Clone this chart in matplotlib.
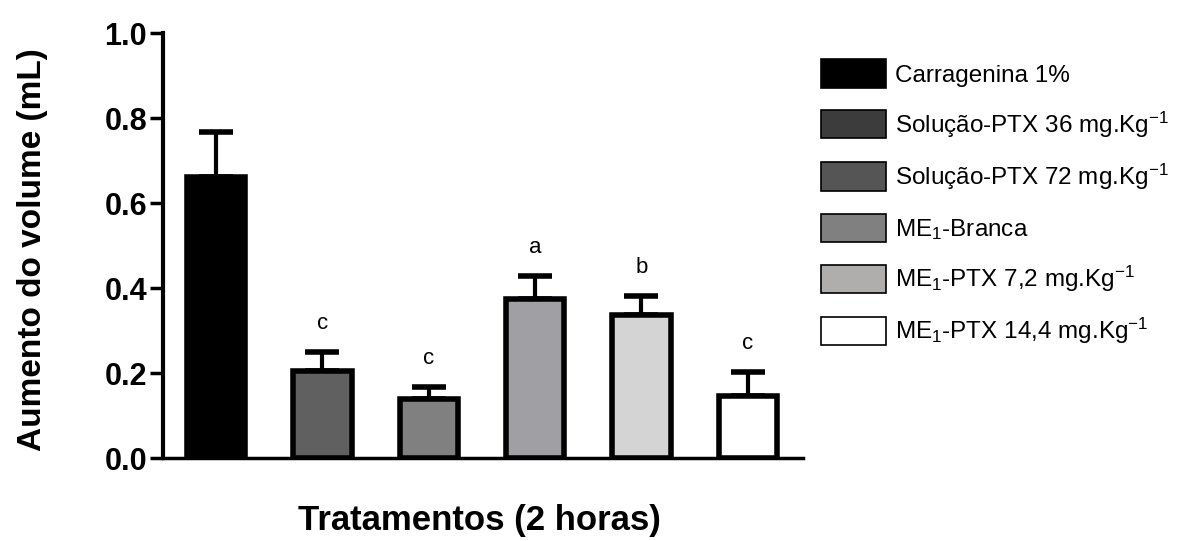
import matplotlib.pyplot as plt
from matplotlib.patches import Patch
import numpy as np

plt.rcParams['font.family'] = ['Liberation Sans', 'DejaVu Sans']
plt.rcParams['mathtext.fontset'] = 'custom'
plt.rcParams['mathtext.rm'] = 'Liberation Sans'
plt.rcParams['mathtext.it'] = 'Liberation Sans'

groups = ['Carragenina 1%',
          'Solução-PTX 36 mg.Kg$^{\\mathregular{-1}}$',
          'Solução-PTX 72 mg.Kg$^{\\mathregular{-1}}$',
          'ME$_{\\mathregular{1}}$-Branca',
          'ME$_{\\mathregular{1}}$-PTX 7,2 mg.Kg$^{\\mathregular{-1}}$',
          'ME$_{\\mathregular{1}}$-PTX 14,4 mg.Kg$^{\\mathregular{-1}}$']
means = [0.661, 0.205, 0.139, 0.374, 0.336, 0.146]
errors = [0.107, 0.045, 0.027, 0.054, 0.046, 0.056]
letters = ['', 'c', 'c', 'a', 'b', 'c']
bar_colors = ['#000000', '#606060', '#808080', '#a0a0a4', '#d4d4d4', '#ffffff']
legend_colors = ['#000000', '#3c3c3c', '#555555', '#808080', '#b0adad', '#ffffff']

fig = plt.figure(figsize=(11.95, 5.41), dpi=100)
ax = fig.add_axes((0.1364, 0.1534, 0.5356, 0.7856))

x = np.arange(len(means))
ax.bar(x, means, width=0.55, color=bar_colors, edgecolor='black', linewidth=4, zorder=3)
ax.errorbar(x, means, yerr=[np.zeros(len(errors)), errors], fmt='none', ecolor='black',
            elinewidth=3, capsize=12, capthick=4, zorder=2)

for xi, m, e, lab in zip(x, means, errors, letters):
    if lab:
        ax.annotate(lab, (xi, m + e), xytext=(0, 13), textcoords='offset points',
                    ha='center', va='bottom', fontsize=16)

ax.set_xlim(-0.5, 5.52)
ax.set_ylim(0, 1.0)
ax.set_yticks([0.0, 0.2, 0.4, 0.6, 0.8, 1.0])
ax.yaxis.set_major_formatter(plt.FormatStrFormatter('%.1f'))
ax.set_xticks([])
for lab in ax.get_yticklabels():
    lab.set_fontweight('bold')
ax.tick_params(axis='y', length=9.5, width=2.5, labelsize=22, pad=2)

ax.spines['right'].set_color('none')
ax.spines['top'].set_color('none')
ax.spines['left'].set_linewidth(3)
ax.spines['bottom'].set_linewidth(2.5)

ax.set_ylabel('Aumento do volume (mL)', fontsize=24, fontweight='bold')
ax.yaxis.set_label_coords(-0.18, 0.49)
fig.text(0.401, 0.037, 'Tratamentos (2 horas)', ha='center', va='center',
         fontsize=25, fontweight='bold')

handles = [Patch(facecolor=c, edgecolor='black', linewidth=1.2) for c in legend_colors]
fig.legend(handles, groups, loc='upper left', bbox_to_anchor=(0.679, 0.908),
           frameon=False, fontsize=17.5, handlelength=2.65, handleheight=1.4,
           labelspacing=0.9, handletextpad=0.4, borderaxespad=0)

fig.savefig('out.png', dpi=100)
